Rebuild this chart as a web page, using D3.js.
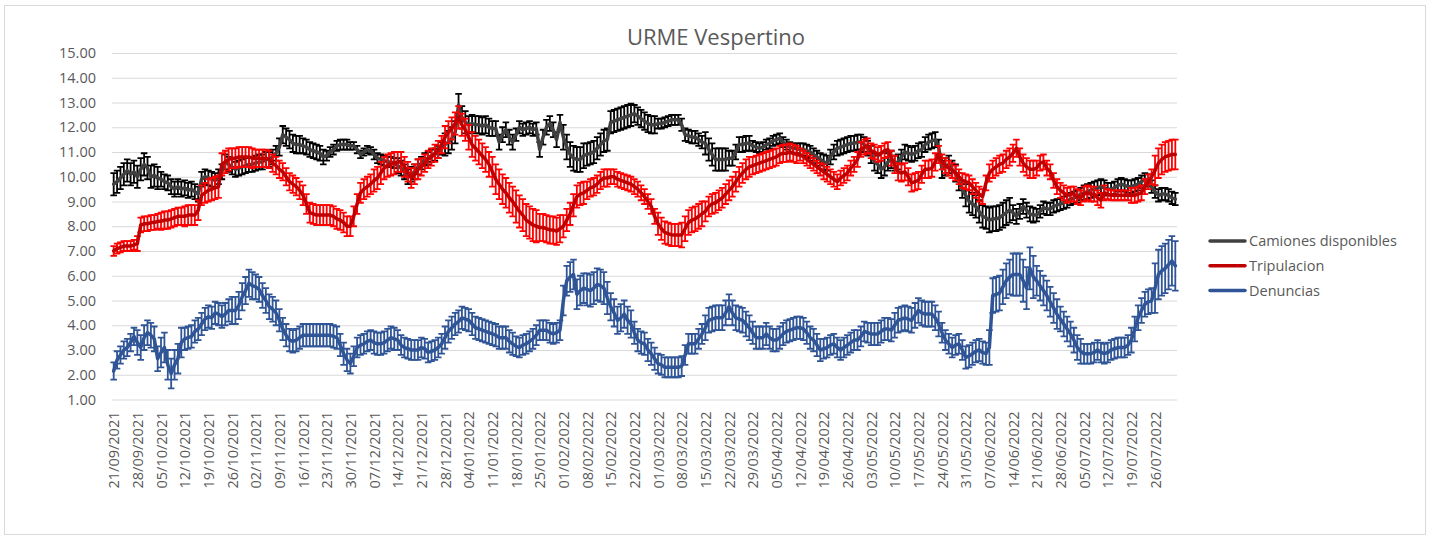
<!DOCTYPE html>
<html>
<head>
<meta charset="utf-8">
<title>URME Vespertino</title>
<script src="https://cdn.jsdelivr.net/npm/d3@7"></script>
<style>
  body { margin: 0; background: #fff; }
  text { font-family: "Open Sans", sans-serif; }
</style>
</head>
<body>
<div id="chart"></div>
<script>
// daily categories: 21/09/2021 .. 01/08/2022
var startDate = new Date(2021, 8, 21);
var endDate = new Date(2022, 7, 2);

var tickLabels = ["21/09/2021","28/09/2021","05/10/2021","12/10/2021","19/10/2021","26/10/2021",
  "02/11/2021","09/11/2021","16/11/2021","23/11/2021","30/11/2021","07/12/2021","14/12/2021",
  "21/12/2021","28/12/2021","04/01/2022","11/01/2022","18/01/2022","25/01/2022","01/02/2022",
  "08/02/2022","15/02/2022","22/02/2022","01/03/2022","08/03/2022","15/03/2022","22/03/2022",
  "29/03/2022","05/04/2022","12/04/2022","19/04/2022","26/04/2022","03/05/2022","10/05/2022",
  "17/05/2022","24/05/2022","31/05/2022","07/06/2022","14/06/2022","21/06/2022","28/06/2022",
  "05/07/2022","12/07/2022","19/07/2022","26/07/2022"];

var yTicks = [1,2,3,4,5,6,7,8,9,10,11,12,13,14,15];

// one row per week
var camiones = [
  9.7,9.8,9.95,10.1,10.25,10.1,10.2,
  10.0,10.3,10.5,10.35,10.0,10.05,9.95,
  9.9,9.8,9.75,9.6,9.5,9.6,9.5,
  9.55,9.45,9.5,9.4,9.3,9.9,10.0,
  9.95,9.9,9.85,10.0,10.2,10.6,10.5,
  10.4,10.3,10.35,10.4,10.45,10.5,10.5,
  10.55,10.6,10.6,10.7,10.7,10.8,10.95,
  11.2,11.7,11.6,11.5,11.35,11.3,11.3,
  11.25,11.2,11.1,11.05,11.0,10.95,10.8,
  10.85,11.0,11.1,11.25,11.3,11.3,11.3,
  11.25,11.25,11.1,10.9,11.0,11.1,11.05,
  10.9,10.75,10.7,10.65,10.6,10.6,10.55,
  10.45,10.35,10.2,10.0,10.1,10.2,10.4,
  10.55,10.7,10.75,10.85,10.9,11.0,11.15,
  11.3,11.4,11.55,11.8,12.9,12.4,12.2,
  12.1,12.15,12.1,12.1,12.05,12.1,12.0,
  11.95,11.95,11.4,11.7,11.9,11.6,11.4,
  11.7,12.0,11.9,11.95,12.0,11.9,11.95,
  11.1,11.6,12.0,12.15,11.9,11.5,12.2,
  11.6,11.2,10.9,10.75,10.7,10.7,10.85,
  10.9,10.95,11.0,11.15,11.3,11.45,11.5,
  12.2,12.25,12.3,12.35,12.4,12.45,12.5,
  12.55,12.45,12.35,12.25,12.15,12.1,12.1,
  12.15,12.15,12.2,12.25,12.3,12.3,12.3,
  12.1,11.7,11.65,11.6,11.6,11.5,11.4,
  11.35,11.1,10.9,10.7,10.7,10.7,10.7,
  10.75,10.75,11.0,11.3,11.3,11.35,11.35,
  11.25,11.2,11.15,11.2,11.3,11.35,11.45,
  11.5,11.55,11.4,11.3,11.2,11.15,11.15,
  11.1,11.1,11.05,11.0,10.9,10.8,10.7,
  10.6,10.55,10.8,11.0,11.15,11.2,11.25,
  11.3,11.35,11.35,11.4,11.4,11.3,11.15,
  10.9,10.6,10.5,10.3,10.4,10.6,10.7,
  10.55,10.6,10.8,11.0,10.95,10.9,10.95,
  11.05,11.1,11.3,11.4,11.45,11.5,11.2,
  10.3,10.4,10.5,10.3,10.15,9.8,9.5,
  9.25,9.0,8.9,8.8,8.6,8.4,8.35,
  8.25,8.3,8.3,8.35,8.45,8.55,8.65,
  8.55,8.4,8.6,8.8,8.65,8.5,8.45,
  8.45,8.6,8.75,8.7,8.7,8.8,8.85,
  8.9,8.95,9.0,9.1,9.15,9.2,9.3,
  9.35,9.4,9.45,9.5,9.55,9.6,9.55,
  9.5,9.5,9.55,9.65,9.7,9.65,9.6,
  9.6,9.65,9.7,9.8,9.9,9.85,9.6,
  9.4,9.25,9.3,9.3,9.25,9.15,9.1
];

var tripulacion = [
  7.0,7.1,7.15,7.2,7.2,7.2,7.25,
  7.3,8.05,8.1,8.1,8.15,8.15,8.2,
  8.2,8.25,8.25,8.3,8.35,8.4,8.4,
  8.4,8.45,8.45,8.45,8.65,9.25,9.35,
  9.45,9.5,9.55,9.6,10.5,10.6,10.7,
  10.75,10.75,10.8,10.8,10.8,10.8,10.75,
  10.75,10.75,10.75,10.75,10.7,10.55,10.45,
  10.3,10.2,10.0,9.8,9.7,9.6,9.45,
  9.25,8.9,8.55,8.5,8.45,8.45,8.45,
  8.45,8.45,8.4,8.3,8.25,8.15,8.0,
  8.0,8.4,8.9,9.35,9.5,9.6,9.7,
  9.85,9.95,10.15,10.35,10.45,10.5,10.55,
  10.6,10.6,10.4,10.2,9.95,10.1,10.3,
  10.4,10.55,10.7,10.8,10.95,11.1,11.3,
  11.6,11.8,11.95,12.15,12.4,12.1,11.9,
  11.6,11.3,11.15,11.0,10.85,10.7,10.5,
  10.2,9.9,9.7,9.5,9.35,9.15,9.0,
  8.8,8.6,8.45,8.25,8.15,8.05,8.0,
  7.95,7.95,7.9,7.85,7.85,7.8,7.9,
  8.0,8.25,8.5,8.85,9.2,9.3,9.35,
  9.45,9.55,9.6,9.7,9.85,9.95,9.95,
  10.0,10.0,9.9,9.85,9.8,9.75,9.7,
  9.6,9.5,9.35,9.2,9.0,8.8,8.4,
  8.1,7.9,7.75,7.7,7.65,7.65,7.65,
  7.65,7.9,8.15,8.25,8.3,8.4,8.5,
  8.6,8.8,8.9,8.95,9.05,9.15,9.3,
  9.45,9.6,9.8,10.0,10.15,10.3,10.4,
  10.45,10.5,10.55,10.6,10.65,10.7,10.75,
  10.8,10.9,10.95,10.95,11.0,10.95,10.9,
  10.9,10.8,10.7,10.6,10.5,10.4,10.3,
  10.2,10.1,10.0,9.9,9.8,9.95,10.05,
  10.15,10.35,10.5,10.7,11.1,11.2,11.25,
  11.05,11.0,10.9,10.95,11.05,11.1,10.75,
  10.5,10.2,10.15,10.2,10.0,9.75,9.8,
  9.85,10.1,10.3,10.3,10.35,10.6,10.9,
  10.6,10.45,10.35,10.25,10.15,10.0,9.85,
  9.8,9.75,9.6,9.45,9.3,9.2,9.75,
  10.15,10.3,10.4,10.5,10.55,10.7,10.8,
  10.95,11.15,10.8,10.55,10.4,10.3,10.3,
  10.35,10.55,10.6,10.35,10.2,9.85,9.6,
  9.45,9.35,9.25,9.3,9.3,9.2,9.15,
  9.3,9.35,9.3,9.3,9.15,9.05,9.35,
  9.3,9.25,9.25,9.25,9.25,9.25,9.25,
  9.25,9.25,9.3,9.35,9.6,9.8,10.0,
  10.25,10.55,10.7,10.8,10.85,10.9,10.9
];

var denuncias = [
  2.15,2.6,2.8,3.0,3.1,3.3,3.55,
  3.3,3.1,3.5,3.7,3.6,3.45,2.65,
  2.9,3.1,2.4,2.05,2.4,2.65,3.3,
  3.45,3.5,3.55,3.75,3.85,4.05,4.25,
  4.35,4.3,4.5,4.45,4.35,4.45,4.6,
  4.6,4.6,4.8,5.15,5.4,5.7,5.6,
  5.55,5.45,5.2,5.0,4.75,4.65,4.5,
  4.2,3.85,3.6,3.4,3.35,3.4,3.5,
  3.6,3.6,3.6,3.6,3.6,3.6,3.6,
  3.6,3.6,3.55,3.5,3.2,2.85,2.6,
  2.45,2.75,3.1,3.2,3.25,3.35,3.4,
  3.3,3.25,3.25,3.3,3.4,3.5,3.45,
  3.4,3.2,3.1,3.05,3.0,3.0,3.0,
  3.1,3.05,2.9,2.95,3.0,3.1,3.25,
  3.5,3.75,3.9,4.05,4.15,4.3,4.25,
  4.2,4.05,3.9,3.85,3.8,3.75,3.7,
  3.65,3.6,3.5,3.5,3.5,3.35,3.25,
  3.15,3.1,3.2,3.25,3.35,3.45,3.6,
  3.8,3.8,3.8,3.7,3.65,3.7,3.8,
  5.0,5.8,5.95,6.05,5.25,5.4,5.5,
  5.45,5.4,5.5,5.65,5.6,5.5,5.1,
  4.75,4.5,4.2,4.3,4.45,4.2,4.05,
  3.7,3.4,3.3,3.25,3.0,2.85,2.65,
  2.45,2.4,2.3,2.3,2.3,2.3,2.3,
  2.35,2.8,3.25,3.25,3.25,3.45,3.65,
  3.9,4.2,4.25,4.3,4.3,4.3,4.5,
  4.75,4.5,4.3,4.25,4.2,4.05,3.9,
  3.7,3.5,3.5,3.5,3.65,3.5,3.4,
  3.4,3.5,3.65,3.75,3.8,3.85,3.9,
  3.9,3.85,3.7,3.5,3.4,3.2,3.0,
  3.05,3.1,3.2,3.25,3.1,3.0,3.1,
  3.2,3.3,3.4,3.4,3.55,3.75,3.7,
  3.65,3.65,3.65,3.75,3.85,3.85,3.8,
  4.0,4.2,4.25,4.3,4.25,4.2,4.4,
  4.6,4.5,4.45,4.45,4.45,4.3,4.05,
  3.7,3.4,3.25,3.1,3.2,3.25,3.0,
  2.7,2.75,2.85,2.95,3.0,2.9,2.85,
  3.1,5.2,5.25,5.3,5.55,5.8,5.95,
  6.05,6.05,6.05,5.8,5.5,6.3,5.95,
  5.8,5.6,5.4,5.2,4.95,4.7,4.45,
  4.25,4.05,3.85,3.65,3.4,3.1,2.95,
  2.85,2.85,2.85,2.9,3.0,2.9,2.85,
  2.9,3.0,3.05,3.1,3.1,3.1,3.2,
  3.4,3.85,4.3,4.6,4.85,4.95,5.0,
  5.5,6.05,6.2,6.3,6.45,6.6,6.4
];

// error bar half-length, one value per week
var errCamiones = [0.45,0.45,0.3,0.3,0.3,0.3,0.3,0.35,0.3,0.2,0.15,0.2,0.3,0.25,0.45,
  0.35,0.3,0.25,0.3,0.5,0.45,0.45,0.35,0.2,0.25,0.45,0.3,0.2,0.2,0.25,
  0.3,0.3,0.35,0.3,0.3,0.35,0.45,0.5,0.3,0.25,0.25,0.3,0.25,0.25,0.25];
var errTripulacion = [0.2,0.3,0.35,0.4,0.45,0.4,0.35,0.35,0.4,0.4,0.4,0.45,0.4,0.35,0.45,
  0.5,0.6,0.65,0.55,0.45,0.35,0.3,0.3,0.45,0.5,0.4,0.4,0.35,0.35,0.25,
  0.3,0.3,0.3,0.35,0.35,0.3,0.3,0.35,0.35,0.3,0.3,0.3,0.2,0.3,0.6];
var errDenuncias = [0.35,0.5,0.6,0.45,0.45,0.55,0.5,0.45,0.45,0.45,0.4,0.45,0.4,0.4,0.45,
  0.45,0.45,0.4,0.4,0.6,0.65,0.55,0.45,0.4,0.4,0.5,0.5,0.45,0.45,0.45,
  0.4,0.4,0.45,0.5,0.5,0.4,0.45,0.7,0.85,0.6,0.5,0.4,0.4,0.5,1.0];

function init()
{
  var width = 1440;
  var height = 537;
  var plot = {left: 112, right: 1177, top: 53, bottom: 399.5};

  var svg = d3.select("#chart")
    .append("svg")
    .attr("width", width)
    .attr("height", height);

  svg.append("rect")
    .attr("x", 4.5)
    .attr("y", 5.5)
    .attr("width", 1421)
    .attr("height", 529)
    .style("fill", "#ffffff")
    .style("stroke", "#d9d9d9");

  var fmt = d3.timeFormat("%d/%m/%Y");
  var days = d3.timeDay.range(startDate, endDate).map(fmt);

  var xScale = d3.scalePoint()
    .domain(days)
    .range([plot.left, plot.right])
    .padding(0.5);

  var yScale = d3.scaleLinear()
    .domain([1, 15])
    .range([plot.bottom, plot.top]);

  // gridlines + y labels
  var yAxis = d3.axisLeft(yScale)
    .tickValues(yTicks)
    .tickFormat(d3.format(".2f"))
    .tickSize(-(plot.right - plot.left))
    .tickPadding(16);

  var gy = svg.append("g")
    .attr("transform", "translate(" + plot.left + ",0)")
    .call(yAxis);
  gy.select(".domain").remove();
  gy.selectAll("line").style("stroke", "#d9d9d9");
  gy.selectAll("text")
    .style("font-size", "14.5px")
    .style("fill", "#595959");

  var xAxis = d3.axisBottom(xScale)
    .tickValues(tickLabels)
    .tickSize(0);

  var gx = svg.append("g")
    .attr("transform", "translate(0," + plot.bottom + ")")
    .call(xAxis);
  gx.select(".domain").remove();
  gx.selectAll("text")
    .attr("transform", "rotate(-90)")
    .attr("x", -12)
    .attr("y", 0)
    .attr("dy", "0.35em")
    .style("text-anchor", "end")
    .style("font-size", "14.5px")
    .style("fill", "#595959");

  var series = [
    {name: "Camiones disponibles", values: camiones, err: errCamiones, line: "#404040", bar: "#000000"},
    {name: "Tripulacion", values: tripulacion, err: errTripulacion, line: "#c00000", bar: "#ff0000"},
    {name: "Denuncias", values: denuncias, err: errDenuncias, line: "#2f5597", bar: "#2f5597"}
  ];

  var line = d3.line()
    .x(function(d) {return xScale(d.day);})
    .y(function(d) {return yScale(d.v);});

  series.forEach(function(s) {
    var pts = s.values.map(function(v, i) {
      return {day: days[i], v: v, e: s.err[Math.floor(i / 7)]};
    });

    svg.append("g")
      .selectAll("path")
      .data(pts)
      .enter()
      .append("path")
        .attr("d", function(d) {
          var x = xScale(d.day);
          var y1 = yScale(d.v + d.e);
          var y2 = yScale(d.v - d.e);
          return "M" + x + "," + y1 + "V" + y2 +
                 "M" + (x - 3.3) + "," + y1 + "H" + (x + 3.3) +
                 "M" + (x - 3.3) + "," + y2 + "H" + (x + 3.3);
        })
        .style("fill", "none")
        .style("stroke", s.bar)
        .style("stroke-width", "1.8");

    svg.append("path")
      .datum(pts)
      .attr("d", line)
      .style("fill", "none")
      .style("stroke", s.line)
      .style("stroke-width", "3.5")
      .style("stroke-linejoin", "round")
      .style("stroke-linecap", "round");
  });

  // title
  svg.append("text")
    .attr("x", 716)
    .attr("y", 45)
    .style("text-anchor", "middle")
    .style("font-size", "22px")
    .style("fill", "#595959")
    .text("URME Vespertino");

  // legend
  var legend = svg.append("g")
    .attr("class", "legend");

  series.forEach(function(s, i) {
    var ly = 241 + i * 24.8;
    legend.append("line")
      .attr("x1", 1210)
      .attr("x2", 1245)
      .attr("y1", ly)
      .attr("y2", ly)
      .style("stroke", s.line)
      .style("stroke-width", "3.5")
      .style("stroke-linecap", "round");
    legend.append("text")
      .attr("x", 1249)
      .attr("y", ly)
      .attr("dy", "0.35em")
      .style("font-size", "14.5px")
      .style("fill", "#595959")
      .text(s.name);
  });
}

window.onload = init;
</script>
</body>
</html>
